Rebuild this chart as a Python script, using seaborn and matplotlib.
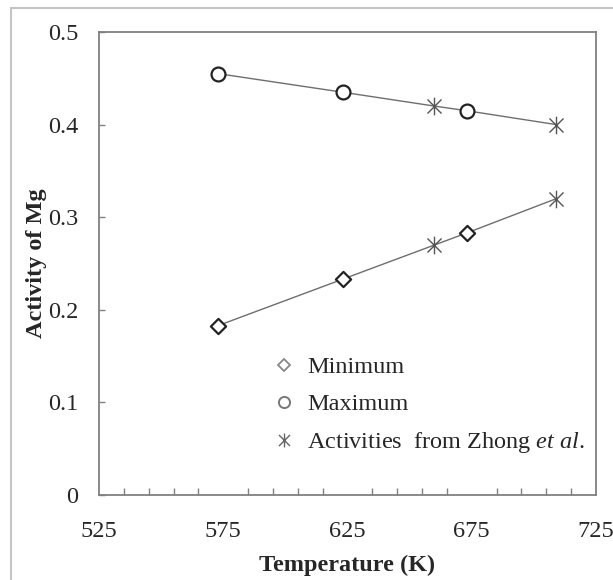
import matplotlib
matplotlib.use("Agg")
import matplotlib.pyplot as plt
from matplotlib.path import Path
from matplotlib.lines import Line2D
from matplotlib.patches import Rectangle
import seaborn as sns
import pandas as pd

# Activity of Mg versus temperature
temp_min = [573, 623, 673]
act_min = [0.183, 0.233, 0.283]
temp_max = [573, 623, 673]
act_max = [0.455, 0.435, 0.415]
temp_zhong_low = [660, 709]
act_zhong_low = [0.270, 0.320]
temp_zhong_high = [660, 709]
act_zhong_high = [0.420, 0.400]

x_ticks = [525, 575, 625, 675, 725]
y_ticks = [0, 0.1, 0.2, 0.3, 0.4, 0.5]
y_tick_labels = ["0", "0.1", "0.2", "0.3", "0.4", "0.5"]

sns.set_theme(style="white")
plt.rcParams["font.family"] = ["Liberation Serif", "DejaVu Serif"]
plt.rcParams["mathtext.fontset"] = "custom"
plt.rcParams["mathtext.rm"] = "Liberation Serif"
plt.rcParams["mathtext.it"] = "Liberation Serif:italic"

# asterisk marker: vertical bar plus an X
star = Path(
    [(0, -1), (0, 1), (-0.8, -0.8), (0.8, 0.8), (-0.8, 0.8), (0.8, -0.8)],
    [Path.MOVETO, Path.LINETO, Path.MOVETO, Path.LINETO, Path.MOVETO, Path.LINETO],
)

lower = pd.DataFrame({"T": temp_min + temp_zhong_low, "a": act_min + act_zhong_low}).sort_values("T")
upper = pd.DataFrame({"T": temp_max + temp_zhong_high, "a": act_max + act_zhong_high}).sort_values("T")

fig = plt.figure(figsize=(6.13, 5.8), dpi=100)
ax = fig.add_axes([99 / 613, 85 / 580, 497 / 613, 463 / 580])

fs = 17.5
line_col = "#6e6e6e"
sns.lineplot(data=lower, x="T", y="a", ax=ax, color=line_col, lw=1.0, sort=True, estimator=None)
sns.lineplot(data=upper, x="T", y="a", ax=ax, color=line_col, lw=1.0, sort=True, estimator=None)

sns.scatterplot(x=temp_min, y=act_min, ax=ax, marker="D", s=60, facecolor="white",
                edgecolor="#222222", linewidth=1.6, zorder=3)
sns.scatterplot(x=temp_max, y=act_max, ax=ax, marker="o", s=100, facecolor="white",
                edgecolor="#222222", linewidth=1.6, zorder=3)
sns.scatterplot(x=temp_zhong_low + temp_zhong_high, y=act_zhong_low + act_zhong_high, ax=ax,
                marker=star, s=160, color="#555555", edgecolor="#555555", linewidth=1.0, zorder=3)

ax.set_xlim(525, 725)
ax.set_ylim(0, 0.5)
ax.set_xticks(x_ticks)
ax.set_xticks(range(525, 726, 10), minor=True)
ax.set_yticks(y_ticks)
ax.set_yticklabels(y_tick_labels)
ax.tick_params(axis="x", which="both", direction="in", length=5, width=1.0, color="#808080",
               pad=19, labelsize=fs, bottom=True, top=False)
ax.tick_params(axis="x", which="major", length=0)
ax.tick_params(axis="y", which="major", direction="in", length=4, width=1.0, color="#808080",
               pad=15, labelsize=fs, left=True)
for sp in ax.spines.values():
    sp.set_color("#808080")
    sp.set_linewidth(1.3)
    sp.set_visible(True)

ax.set_xlabel("Temperature (K)", fontsize=fs, fontweight="bold")
ax.set_ylabel("Activity of Mg", fontsize=fs, fontweight="bold")
ax.xaxis.set_label_coords(0.5, -0.129)
ax.yaxis.set_label_coords(-0.105, 0.5)

handles = [
    Line2D([], [], ls="none", marker="D", ms=6, mfc="white", mec="#888888", mew=1.3),
    Line2D([], [], ls="none", marker="o", ms=8, mfc="white", mec="#777777", mew=1.4),
    Line2D([], [], ls="none", marker=star, ms=10, mec="#666666", mew=1.0),
]
labels = ["Minimum", "Maximum", r"Activities  from Zhong $\mathit{et\ al.}$"]
ax.legend(handles, labels, loc="upper left", bbox_to_anchor=(0.35, 0.30), frameon=False,
          fontsize=fs, handlelength=0.9, handletextpad=0.5, labelspacing=0.62,
          borderaxespad=0, borderpad=0)

# light frame around the figure
fig.add_artist(Rectangle((11 / 613, -0.1), 1.2, (580 - 8) / 580 + 0.1, transform=fig.transFigure,
                         fill=False, edgecolor="#c4c4c4", lw=1.5, clip_on=False))

fig.savefig("out.png", dpi=100)
